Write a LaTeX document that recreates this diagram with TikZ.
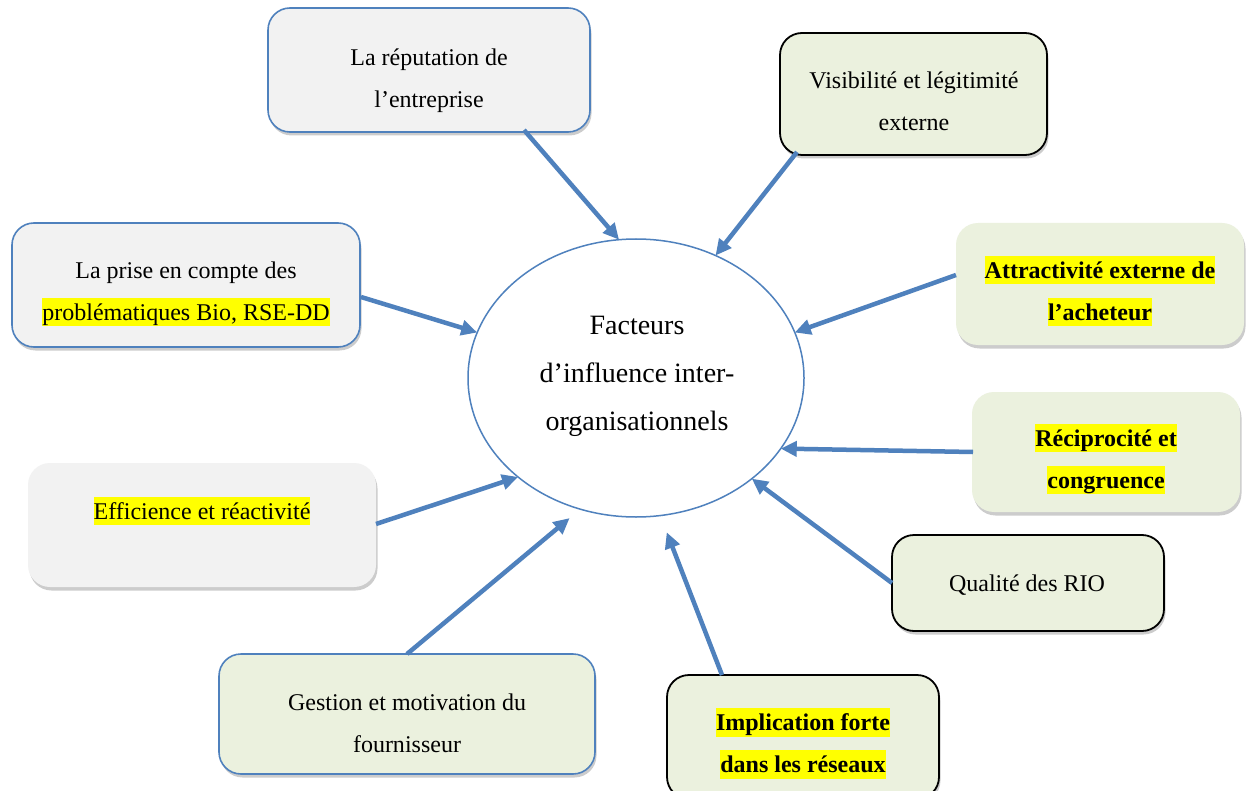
\documentclass[tikz,border=0pt]{standalone}
\usepackage{fontspec}
\setmainfont{Liberation Serif}
\usetikzlibrary{arrows.meta,shadows,calc,shapes.geometric}
\definecolor{arrowblue}{HTML}{4F81BD}
\definecolor{boxgray}{HTML}{F2F2F2}
\definecolor{boxgreen}{HTML}{EBF1DE}
\definecolor{hlyellow}{HTML}{FFFF00}
\newcommand{\lnstrut}{\rule[-0.25em]{0pt}{1.2em}}
\newcommand{\hlt}[1]{{\setlength{\fboxsep}{0pt}\colorbox{hlyellow}{\lnstrut#1}}}
\begin{document}
\begin{tikzpicture}[x=1pt,y=-1pt,
  boxbase/.style={rectangle, rounded corners=22pt, inner sep=0pt, outer sep=0pt,
    drop shadow={shadow xshift=1.5pt, shadow yshift=-3.5pt, fill=black, opacity=0.2}},
  graybox/.style={boxbase, fill=boxgray},
  greenbox/.style={boxbase, fill=boxgreen},
  blueline/.style={draw=arrowblue, line width=1.6pt},
  blackline/.style={draw=black, line width=1.8pt},
  boxtext/.style={inner sep=0pt, align=center, font=\fontsize{24}{42}\selectfont},
  boldtext/.style={inner sep=0pt, align=center, font=\fontsize{24}{42}\selectfont\bfseries},
  centertext/.style={inner sep=0pt, align=center, font=\fontsize{28}{48}\selectfont},
  infl/.style={draw=arrowblue, line width=4.5pt, -{Triangle[length=16pt,width=15pt]}}
]
\clip (0,0) rectangle (1249,791);
\fill[white] (0,0) rectangle (1249,791);

% central ellipse
\node[ellipse, draw=arrowblue, line width=1.5pt, fill=white, minimum width=336pt,
  minimum height=278pt, inner sep=0pt, outer sep=0pt] (c) at (636,378) {};

% box shapes
\node[graybox, blueline, minimum width=322pt, minimum height=124pt] (rep) at (429,70) {};
\node[greenbox, blackline, minimum width=267pt, minimum height=122pt] (vis) at (913.5,94) {};
\node[greenbox, minimum width=288pt, minimum height=122pt] (attr) at (1100,284) {};
\node[greenbox, minimum width=268pt, minimum height=120pt] (reci) at (1106,452) {};
\node[greenbox, blackline, minimum width=272pt, minimum height=96pt] (qual) at (1028,583) {};
\node[greenbox, blackline, minimum width=272pt, minimum height=124pt] (impl) at (803,737) {};
\node[greenbox, blueline, minimum width=376pt, minimum height=120pt] (gest) at (407,714) {};
\node[graybox, minimum width=348pt, minimum height=124pt] (eff) at (202,525) {};
\node[graybox, blueline, minimum width=348pt, minimum height=124pt] (prise) at (186,285) {};

% arrows
\draw[infl] ($(rep.south)+(95,-2)$) -- (c.97.8);
\draw[infl] ($(vis.south west)+(17,-3)$) -- (c.57.3);
\draw[infl] ($(attr.west)+(0,-9)$) -- (c.16.6);
\draw[infl] ($(reci.west)+(1,0)$) -- (c.334.9);
\draw[infl] ($(qual.west)+(0,0)$) -- (c.319.9);
\draw[infl, shorten >=18pt] ($(impl.north)+(-81,0)$) -- (c.280.5);
\draw[infl, shorten >=14pt] ($(gest.north)+(0,0)$) -- (c.247.8);
\draw[infl] ($(eff.east)+(0,-1)$) -- (c.220.3);
\draw[infl] ($(prise.east)+(1,12)$) -- (c.164.3);

% texts
\node[centertext] (c-t) at (637,373) {\lnstrut Facteurs\\\lnstrut d’influence inter-\\\lnstrut organisationnels};
\node[boxtext] (rep-t) at (429,78.5) {\lnstrut La réputation de\\\lnstrut l’entreprise};
\node[boxtext] (vis-t) at (914,101.5) {\lnstrut Visibilité et légitimité\\\lnstrut externe};
\node[boldtext] (attr-t) at (1100,291) {\hlt{Attractivité externe de}\\\hlt{l’acheteur}};
\node[boldtext] (reci-t) at (1106,459) {\hlt{Réciprocité et}\\\hlt{congruence}};
\node[boxtext] (qual-t) at (1027,583) {\lnstrut Qualité des RIO};
\node[boldtext] (impl-t) at (803,743.5) {\hlt{Implication forte}\\\hlt{dans les réseaux}};
\node[boxtext] (gest-t) at (407,723.5) {\lnstrut Gestion et motivation du\\\lnstrut fournisseur};
\node[boxtext] (eff-t) at (202,511) {\hlt{Efficience et réactivité}};
\node[boxtext] (prise-t) at (186,291) {\lnstrut La prise en compte des\\\hlt{problématiques Bio, RSE-DD}};
\end{tikzpicture}
\end{document}
